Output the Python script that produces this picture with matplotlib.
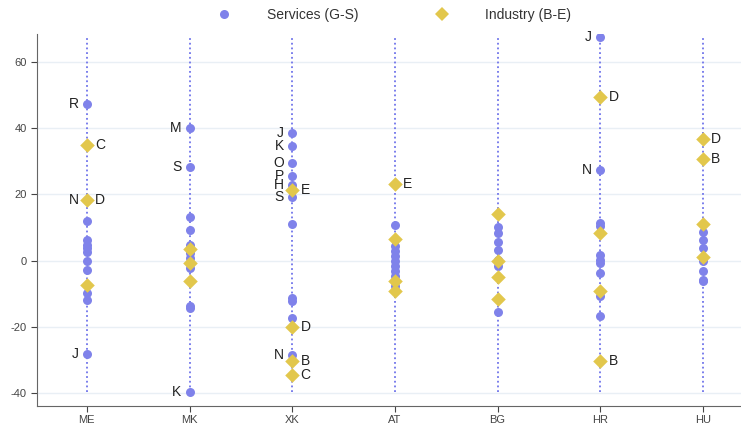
import matplotlib
matplotlib.use("Agg")
import matplotlib.pyplot as plt
from matplotlib.lines import Line2D

plt.rcParams['font.family'] = ['Liberation Sans', 'DejaVu Sans']
plt.rcParams['axes.unicode_minus'] = False

countries = ["ME", "MK", "XK", "AT", "BG", "HR", "HU"]

# services (G-S) growth per country, with the outlying sectors labelled
services = {
    "ME": [47.4, 18.3, 12.1, 6.3, 4.8, 3.9, 2.7, 0.0, -2.9, -9.7, -11.9, -28.2],
    "MK": [40.0, 28.3, 13.1, 9.3, 4.8, 2.4, 0.9, -2.1, -13.5, -14.2, -39.5],
    "XK": [38.6, 34.5, 29.5, 25.5, 22.8, 19.3, 11.1, -11.2, -12.2, -17.2, -28.5],
    "AT": [10.8, 4.5, 3.0, 1.5, 0.0, -1.5, -3.0, -4.5, -7.7],
    "BG": [10.3, 8.3, 5.8, 3.3, 0.3, -1.7, -15.4],
    "HR": [67.6, 27.5, 11.3, 10.5, 1.8, 0.3, -0.7, -3.7, -10.7, -16.7],
    "HU": [8.8, 6.3, 3.8, -0.2, -3.2, -5.7, -6.2],
}
services_labels = {
    "ME": ["R", "N", "", "", "", "", "", "", "", "", "", "J"],
    "MK": ["M", "S", "", "", "", "", "", "", "", "", "K"],
    "XK": ["J", "K", "O", "P", "H", "S", "", "", "", "", "N"],
    "HR": ["J", "N", "", "", "", "", "", "", "", ""],
}

# industry (B-E) growth per country
industry = {
    "ME": [34.8, 18.3, -7.2],
    "MK": [3.5, -0.7, -6.0],
    "XK": [21.3, -20.0, -30.2, -34.5],
    "AT": [23.3, 6.5, -6.0, -9.2],
    "BG": [14.0, 0.0, -5.0, -11.5],
    "HR": [49.5, 8.3, -9.2, -30.2],
    "HU": [36.8, 30.6, 11.0, 1.0],
}
industry_labels = {
    "ME": ["C", "D", ""],
    "XK": ["E", "D", "B", "C"],
    "AT": ["E", "", "", ""],
    "HR": ["D", "", "", "B"],
    "HU": ["D", "B", "", ""],
}

blue = "#7f82ea"
gold = "#e2c74c"

fig = plt.figure(figsize=(7.41, 4.26), dpi=100)
ax = fig.add_axes([37 / 741, 1 - 405.7 / 426, 1 - 37 / 741, (405.7 - 34) / 426])

all_vals = [v for c in countries for v in services[c] + industry[c]]
lo, hi = min(all_vals), max(all_vals)

for i, c in enumerate(countries):
    ax.plot([i, i], [lo, hi], linestyle=(0, (1, 1.6)), color="#7074ea", lw=1.3, zorder=1)
    ax.scatter([i] * len(services[c]), services[c], s=42, color=blue, zorder=3, linewidths=0)
    ax.scatter([i] * len(industry[c]), industry[c], s=55, marker="D", color=gold, zorder=4, linewidths=0)
    for v, lab in zip(services[c], services_labels.get(c, [])):
        if lab:
            ax.annotate(lab, (i, v), xytext=(-6, 0), textcoords="offset points",
                        ha="right", va="center", fontsize=10, color="#222222")
    for v, lab in zip(industry[c], industry_labels.get(c, [])):
        if lab:
            ax.annotate(lab, (i, v), xytext=(6, 0), textcoords="offset points",
                        ha="left", va="center", fontsize=10, color="#222222")

ax.set_xlim(-0.485, 6.37)
ax.set_ylim(-43.7, 68.4)
ax.set_xticks(range(len(countries)))
ax.set_xticklabels(countries)
ax.set_yticks([-40, -20, 0, 20, 40, 60])
ax.grid(axis="y", color="#e9eff5", lw=1)
ax.set_axisbelow(True)
for side in ["top", "right"]:
    ax.spines[side].set_visible(False)
for side in ["left", "bottom"]:
    ax.spines[side].set_color("#666666")
ax.tick_params(labelsize=8, colors="#444444", length=4)
ax.tick_params(axis="x", pad=3)

handles = [
    Line2D([], [], marker="o", ls="", color=blue, markersize=6.5, markeredgewidth=0),
    Line2D([], [], marker="D", ls="", color=gold, markersize=7, markeredgewidth=0),
]
fig.legend(handles, ["Services (G-S)", "Industry (B-E)"], loc="center",
           bbox_to_anchor=(0.527, 1 - 15 / 426), ncol=2, frameon=False,
           fontsize=10, handletextpad=2.1, columnspacing=5.0, labelcolor="#333333")

fig.savefig("out.png", dpi=100)
